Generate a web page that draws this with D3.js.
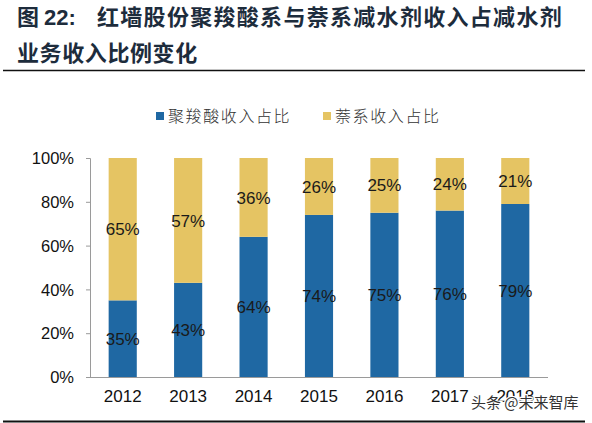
<!DOCTYPE html>
<html><head><meta charset="utf-8">
<script src="https://cdn.jsdelivr.net/npm/d3@7"></script>
<style>
html,body{margin:0;padding:0;background:#fff;}
svg{display:block;}
</style></head>
<body>
<svg id="chart" width="592" height="423"></svg>
<script>
const years = ["2012","2013","2014","2015","2016","2017","2018"];
const pceShare = [35,43,64,74,75,76,79];
const naphShare = [65,57,36,26,25,24,21];
const seriesNames = ["聚羧酸收入占比","萘系收入占比"];
const yTicks = [0,20,40,60,80,100];
const titleLine1 = "红墙股份聚羧酸系与萘系减水剂收入占减水剂";
const titleLine2 = "业务收入比例变化";
const colors = ["#1f68a3","#e5c463"];

const svg = d3.select("#chart");
const cjk = "'Noto Sans CJK SC','Noto Sans CJK JP',sans-serif";
const latin = "'Liberation Sans',Arial,sans-serif";

// Title
const t1 = svg.append("text").attr("x",17).attr("y",25)
  .attr("font-family",cjk).attr("font-weight","bold").attr("font-size",22)
  .attr("fill","#1d2c3c");
t1.append("tspan").text("图 ");
t1.append("tspan").attr("font-family",latin).text("22:");
t1.append("tspan").attr("x",97).attr("letter-spacing",1.3).text(titleLine1);
svg.append("text").attr("x",17).attr("y",61)
  .attr("font-family",cjk).attr("font-weight","bold").attr("font-size",22)
  .attr("letter-spacing",0.6).attr("fill","#1d2c3c").text(titleLine2);
svg.append("line").attr("x1",3).attr("x2",585).attr("y1",70.5).attr("y2",70.5)
  .attr("stroke","#111").attr("stroke-width",1.5);
svg.append("line").attr("x1",3).attr("x2",585).attr("y1",421.5).attr("y2",421.5)
  .attr("stroke","#111").attr("stroke-width",2);

// Legend
const legX = [156,323];
seriesNames.forEach((n,i)=>{
  svg.append("rect").attr("x",legX[i]).attr("y",112).attr("width",8).attr("height",8).attr("fill",colors[i]);
  svg.append("text").attr("x",legX[i]+12).attr("y",122).attr("font-family",cjk)
    .attr("font-size",16).attr("font-weight",300).attr("letter-spacing",1.6).attr("fill","#333").text(n);
});

// Scales
const x = d3.scaleBand().domain(years).range([90,548]).paddingInner(0.57).paddingOuter(0.285);
const y = d3.scaleLinear().domain([0,100]).range([377,158]);

// Axes
const yAxis = svg.append("g").attr("transform","translate(90,0)")
  .call(d3.axisLeft(y).tickValues(yTicks).tickSize(4).tickPadding(12).tickFormat(d=>d+"%"));
yAxis.selectAll("path,line").attr("stroke","#9a9a9a");
yAxis.select(".domain").attr("d","M-4,158.5H0.5V377.5H-4");
yAxis.selectAll("text").attr("font-family",latin).attr("font-size",16.5).attr("fill","#111").attr("dy","0.35em");

const xAxis = svg.append("g").attr("transform","translate(0,377)")
  .call(d3.axisBottom(x).tickSize(0).tickPadding(13));
xAxis.select(".domain").attr("stroke","#9a9a9a").attr("d","M90,0.5H548");
xAxis.selectAll("text").attr("font-family",latin).attr("font-size",17).attr("fill","#111");

// Stacked bars
const rows = years.map((yr,i)=>({year:yr, a:pceShare[i], b:naphShare[i]}));
const stack = d3.stack().keys(["a","b"])(rows);
const g = svg.append("g");
stack.forEach((layer,li)=>{
  g.selectAll(null).data(layer).enter().append("rect")
    .attr("x",d=>x(d.data.year)).attr("width",x.bandwidth())
    .attr("y",d=>y(d[1])).attr("height",d=>y(d[0])-y(d[1]))
    .attr("fill",colors[li]);
  g.selectAll(null).data(layer).enter().append("text")
    .attr("x",d=>x(d.data.year)+x.bandwidth()/2)
    .attr("y",d=>(y(d[0])+y(d[1]))/2)
    .attr("dy","0.36em").attr("text-anchor","middle")
    .attr("font-family",latin).attr("font-size",17).attr("fill","#1a1a1a")
    .text(d=>(d[1]-d[0])+"%");
});

// Watermark
svg.append("text").attr("x",471).attr("y",408).attr("font-family",cjk)
  .attr("font-size",15).attr("fill","#333").attr("stroke","#fff").attr("stroke-width",2.5)
  .attr("paint-order","stroke").text("头条 @未来智库");
</script>
</body></html>
